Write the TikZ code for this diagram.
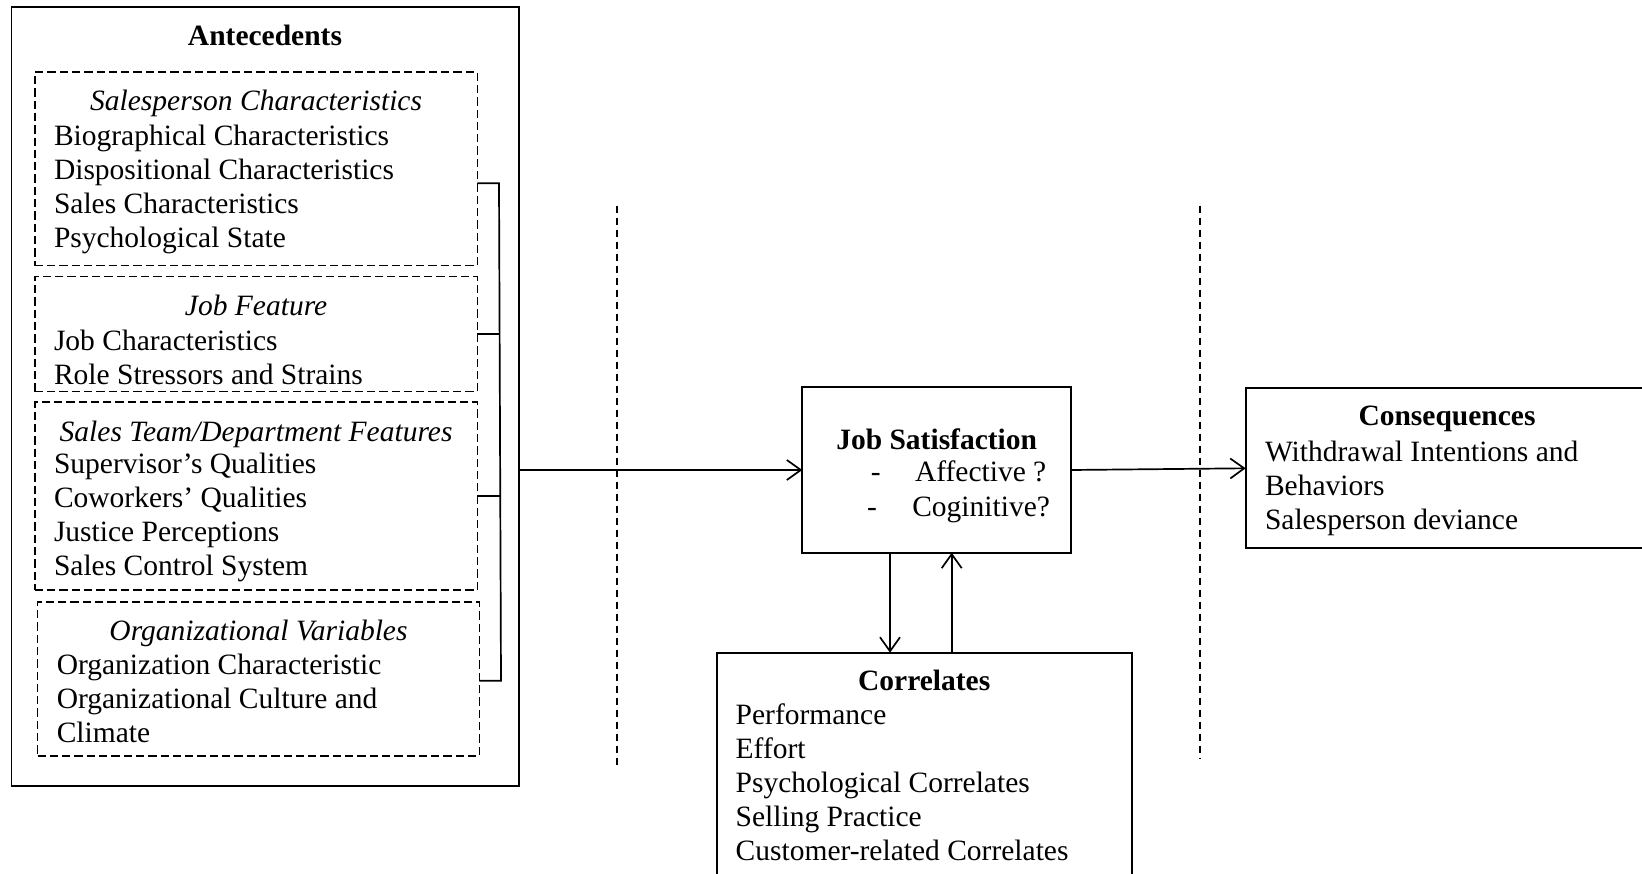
\documentclass[tikz,border=0pt]{standalone}
\usepackage{fontspec}
\setmainfont{Liberation Serif}
\usetikzlibrary{arrows.meta}
\newcommand\bodyfont{\fontsize{29.5}{34}\selectfont}
\newcommand\stacklines[1]{\begin{tabular}[t]{@{}l@{}}#1\end{tabular}}
\begin{document}
\begin{tikzpicture}[x=1pt,y=-1pt,
  every node/.style={inner sep=0pt, outer sep=0pt},
  txt/.style={font=\bodyfont, anchor=base west, yshift=-2pt},
  dashmark/.style={font=\bodyfont, anchor=base, yshift=-2pt},
  ttl/.style={font=\bodyfont\bfseries, anchor=base, yshift=-2pt},
  sub/.style={font=\bodyfont\itshape, anchor=base, yshift=-2pt},
  frame/.style={draw, line width=1.7pt, anchor=north west},
  dbox/.style={draw, line width=1.6pt, dash pattern=on 8.3pt off 4pt, anchor=north west},
  conn/.style={line width=1.7pt},
  arr/.style={conn, -{Straight Barb[length=14pt,width=20pt]}},
  sep/.style={line width=1.6pt, dash pattern=on 7.3pt off 4.7pt}]
\useasboundingbox (0,0) rectangle (1642,874);
\clip (0,0) rectangle (1642,874);

% ---------- Antecedents ----------
\node[frame, minimum width=507.5pt, minimum height=778.7pt] (ante) at (11.5,7.3) {};
\node[ttl] (anteT) at (265,43.3) {Antecedents};

\node[dbox, minimum width=442.6pt, minimum height=193.4pt] (sc) at (34.8,72.3) {};
\node[sub] (scT) at (256.1,109) {Salesperson Characteristics};
\node[txt] (scL) at (54,143.3) {\stacklines{Biographical Characteristics\\Dispositional Characteristics\\Sales Characteristics\\Psychological State}};

\node[dbox, minimum width=442.6pt, minimum height=115pt] (jf) at (34.8,276.7) {};
\node[sub] (jfT) at (256.1,314) {Job Feature};
\node[txt] (jfL) at (54,348.3) {\stacklines{Job Characteristics\\Role Stressors and Strains}};

\node[dbox, minimum width=442.6pt, minimum height=187.7pt] (st) at (34.8,402.3) {};
\node[sub] (stT) at (256.1,439.3) {Sales Team/Department Features};
\node[txt] (stL) at (54,471.7) {\stacklines{Supervisor’s Qualities\\Coworkers’ Qualities\\Justice Perceptions\\Sales Control System}};

\node[dbox, minimum width=441.9pt, minimum height=153.7pt] (ov) at (37.5,602) {};
\node[sub] (ovT) at (258.5,638.3) {Organizational Variables};
\node[txt] (ovL) at (56.8,672.7) {\stacklines{Organization Characteristic\\Organizational Culture and\\Climate}};

% bracket
\coordinate (b1) at (499,183.3);
\coordinate (b4) at (501,680.7);
\draw[conn] (sc.east |- b1) -- (b1) -- (b4) -- (ov.east |- b4);
\draw[conn] (jf.east) -- (jf.east -| 499.6,0);
\draw[conn] (st.east) -- (st.east -| 500.3,0);

% ---------- Job Satisfaction ----------
\node[frame, minimum width=268.7pt, minimum height=165.4pt] (js) at (802.3,387.3) {};
\node[ttl] (jsT) at (936.7,447.3) {Job Satisfaction};
\node[dashmark] (jsd1) at (875.7,480) {-};
\node[txt] (jsA) at (915,480) {Affective ?};
\node[dashmark] (jsd2) at (872,514) {-};
\node[txt] (jsC) at (912.3,514) {Coginitive?};

% ---------- Consequences ----------
\node[frame, minimum width=402.3pt, minimum height=160pt] (cons) at (1245.7,388.3) {};
\node[ttl] (consT) at (1447,424) {Consequences};
\node[txt] (consL) at (1265,459.3) {\stacklines{Withdrawal Intentions and\\Behaviors\\Salesperson deviance}};

% ---------- Correlates ----------
\node[frame, minimum width=415pt, minimum height=247.3pt] (cor) at (716.7,652.7) {};
\node[ttl] (corT) at (924.2,688.3) {Correlates};
\node[txt] (corL) at (735.7,722.7) {\stacklines{Performance\\Effort\\Psychological Correlates\\Selling Practice\\Customer-related Correlates}};

% ---------- separators ----------
\draw[sep] (617,205.7) -- (617,766.7);
\draw[sep] (1200,205.7) -- (1200,758);

% ---------- arrows ----------
\draw[arr] (ante.east |- js.west) -- (js.west);
\draw[arr] (js.east) -- (cons.west);
\coordinate (dx) at (890,0);
\coordinate (ux) at (951.7,0);
\draw[arr] (js.south -| dx) -- (cor.north -| dx);
\draw[arr] (cor.north -| ux) -- (js.south -| ux);
\end{tikzpicture}
\end{document}
